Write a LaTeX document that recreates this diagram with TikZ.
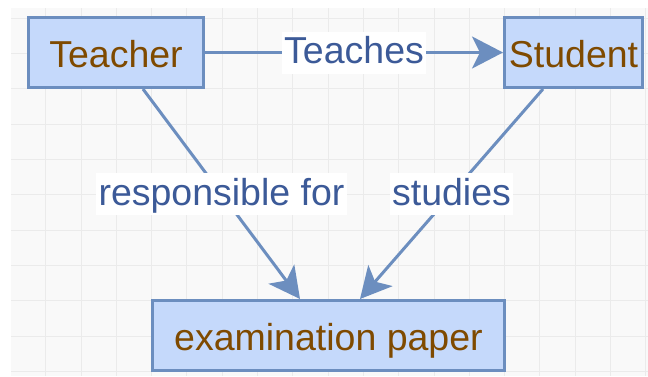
\documentclass[tikz,border=0pt]{standalone}
\usepackage{fontspec}
\setmainfont{Liberation Sans}
\usetikzlibrary{arrows.meta,calc}
\definecolor{boxfill}{HTML}{C5D9FB}
\definecolor{boxline}{HTML}{6C8EBF}
\definecolor{boxtext}{HTML}{7F4A00}
\definecolor{lbltext}{HTML}{3C5A98}
\definecolor{gridbg}{HTML}{F9F9F9}
\definecolor{gridln}{HTML}{EBEBEB}
\begin{document}
\begin{tikzpicture}[x=1pt,y=-1pt,
  entity/.style={draw=boxline, line width=3pt, fill=boxfill, text=boxtext,
    font=\fontsize{37.5}{40}\selectfont, minimum height=70pt, inner sep=0pt,
    text height=30pt, text depth=0pt},
  rel/.style={draw=boxline, line width=3pt,
    -{Stealth[length=31pt, width=32pt, inset=8pt]}},
  lbl/.style={fill=white, text=lbltext, font=\fontsize{37.5}{40}\selectfont,
    inner xsep=2.5pt, inner ysep=2pt, text height=30pt, text depth=8pt}]
\useasboundingbox (0,0) rectangle (648,376);
\fill[white] (0,0) rectangle (648,376);
\fill[gridbg] (11,8) rectangle (648,376);
\foreach \i in {0,...,17} {
  \draw[gridln, line width=1pt] ({45.7+35.3*\i},8) -- ({45.7+35.3*\i},376);
}
\foreach \j in {0,...,10} {
  \draw[gridln, line width=1pt] (11,{300.7-35.3*\j+35.3*2}) -- (648,{300.7-35.3*\j+35.3*2});
}
\fill[white] (0,0) rectangle (648,8);
\fill[white] (0,0) rectangle (11,376);

\node[entity, minimum width=175pt] (T) at (116,52.5) {Teacher};
\node[entity, minimum width=138pt] (S) at (573.5,52.5) {Student};
\node[entity, minimum width=352pt] (E) at (328.5,335.5) {examination paper};

\draw[rel] (T.east) -- node[lbl] {Teaches} (S.west);
\draw[rel] ([xshift=27pt]T.south) -- node[lbl] {responsible for} ([xshift=-28.5pt]E.north);
\draw[rel] ([xshift=-30.5pt]S.south) -- node[lbl] {studies} ([xshift=31.5pt]E.north);
\end{tikzpicture}
\end{document}
